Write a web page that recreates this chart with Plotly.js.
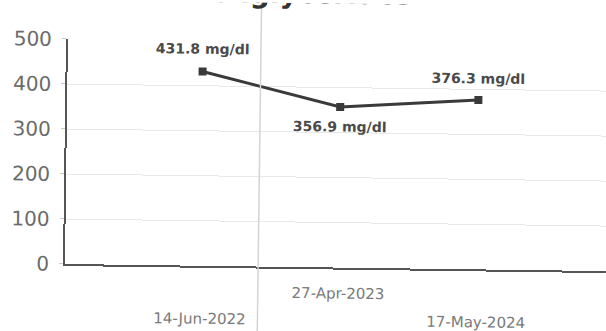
<!DOCTYPE html>
<html>
<head>
<meta charset="utf-8">
<script src="https://cdn.plot.ly/plotly-3.0.1.min.js"></script>
<style>
  html, body { margin: 0; padding: 0; background: #ffffff; overflow: hidden; }
  #chart { width: 606px; height: 331px; transform: rotate(0.75deg); transform-origin: 65px 264px; }
</style>
</head>
<body>
<div id="chart"></div>
<script>
// Triglyceride results over time
const testDates = ["14-Jun-2022", "27-Apr-2023", "17-May-2024"];
const trigValues = [431.8, 356.9, 376.3];
const unitLabel = "mg/dl";
const chartTitle = "Triglycerides";
const yTickValues = [0, 100, 200, 300, 400, 500];
const yTickLabels = ["0", "100", "200", "300", "400", "500"];

// value labels sit above the first and last points, below the middle one
const labelShift = [23, -20, 22];
// date labels alternate between two rows under the axis
const dateShift = [-45, -18, -45];

const valueNotes = testDates.map((d, i) => ({
  x: d, y: trigValues[i], xref: "x", yref: "y",
  text: trigValues[i].toFixed(1) + " " + unitLabel,
  showarrow: false, yshift: labelShift[i],
  font: { family: "DejaVu Sans", size: 14, color: "#4a4a4a", weight: "bold" }
}));

const dateNotes = testDates.map((d, i) => ({
  x: d, y: 0, xref: "x", yref: "paper", yanchor: "middle",
  text: d, showarrow: false, yshift: dateShift[i] - 8,
  font: { family: "DejaVu Sans", size: 15, color: "#7a7a7a" }
}));

// heading runs off the top edge of the page
const titleNote = {
  x: 0.45, y: 1, xref: "paper", yref: "paper",
  xanchor: "center", yanchor: "middle", yshift: 49,
  text: "<b>" + chartTitle + "</b>", showarrow: false,
  font: { family: "DejaVu Sans", size: 28, color: "#333333" }
};

const trace = {
  x: testDates,
  y: trigValues,
  type: "scatter",
  mode: "lines+markers",
  line: { color: "#3a3a3a", width: 3 },
  marker: { symbol: "square", size: 8, color: "#3a3a3a" },
  hoverinfo: "skip"
};

const layout = {
  width: 606, height: 331,
  margin: { l: 65, r: 0, t: 39, b: 67 },
  paper_bgcolor: "#ffffff",
  plot_bgcolor: "#ffffff",
  showlegend: false,
  xaxis: {
    type: "category",
    range: [-0.978, 2.94],
    showgrid: false,
    zeroline: false,
    showline: true, linecolor: "#555555", linewidth: 2,
    showticklabels: false,
    ticks: ""
  },
  yaxis: {
    range: [0, 500],
    tickvals: yTickValues,
    ticktext: yTickLabels,
    showgrid: true, gridcolor: "#e8e8e8", gridwidth: 1,
    zeroline: false,
    showline: true, linecolor: "#555555", linewidth: 2,
    ticks: "outside", ticklen: 4, tickcolor: "#c8c8c8",
    ticklabelstandoff: 6,
    tickfont: { family: "DejaVu Sans", size: 20, color: "#6a6a6a" }
  },
  shapes: [{
    type: "line", xref: "paper", yref: "paper",
    x0: 0.357, x1: 0.357, y0: -0.35, y1: 1.25,
    line: { color: "#d4d4d4", width: 1.5 }
  }],
  annotations: [titleNote].concat(valueNotes, dateNotes)
};

Plotly.newPlot("chart", [trace], layout, { staticPlot: true, displayModeBar: false });
</script>
</body>
</html>
